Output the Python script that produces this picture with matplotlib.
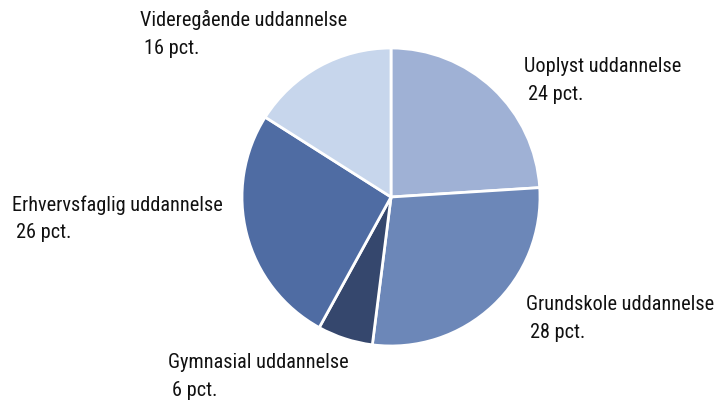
import matplotlib.pyplot as plt

# data
categories = ["Uoplyst uddannelse", "Grundskole uddannelse", "Gymnasial uddannelse",
              "Erhvervsfaglig uddannelse", "Videregående uddannelse"]
shares = [24, 28, 6, 26, 16]
colors = ["#9FB1D5", "#6C87B8", "#35476D", "#4F6CA3", "#C7D6EC"]

# label anchor positions in pixels (left x, top-line y from top)
label_pos = [(524, 67), (526, 305), (168, 362), (12, 205), (140, 20)]


def main():
    plt.rcParams["font.family"] = ["Roboto Condensed", "DejaVu Sans"]

    W, H = 715, 403
    fig = plt.figure(figsize=(W / 100, H / 100), dpi=100)
    ax = fig.add_axes([0, 0, 1, 1])
    ax.set_aspect("equal")
    ax.axis("off")

    ax.pie(shares, colors=colors, startangle=90, counterclock=False,
           center=(391, H - 197), radius=149,
           wedgeprops=dict(edgecolor="white", linewidth=2))
    ax.set_xlim(0, W)
    ax.set_ylim(0, H)

    for name, val, (px, py) in zip(categories, shares, label_pos):
        ax.text(px, H - py, name, fontsize=14.6, ha="left", va="center", color="#111111",
                fontstretch="condensed")
        ax.text(px + 4, H - py - 28, f"{val} pct.", fontsize=14.6, ha="left", va="center",
                color="#111111", fontstretch="condensed")

    fig.savefig("out.png", dpi=100, facecolor="white")


if __name__ == "__main__":
    main()
